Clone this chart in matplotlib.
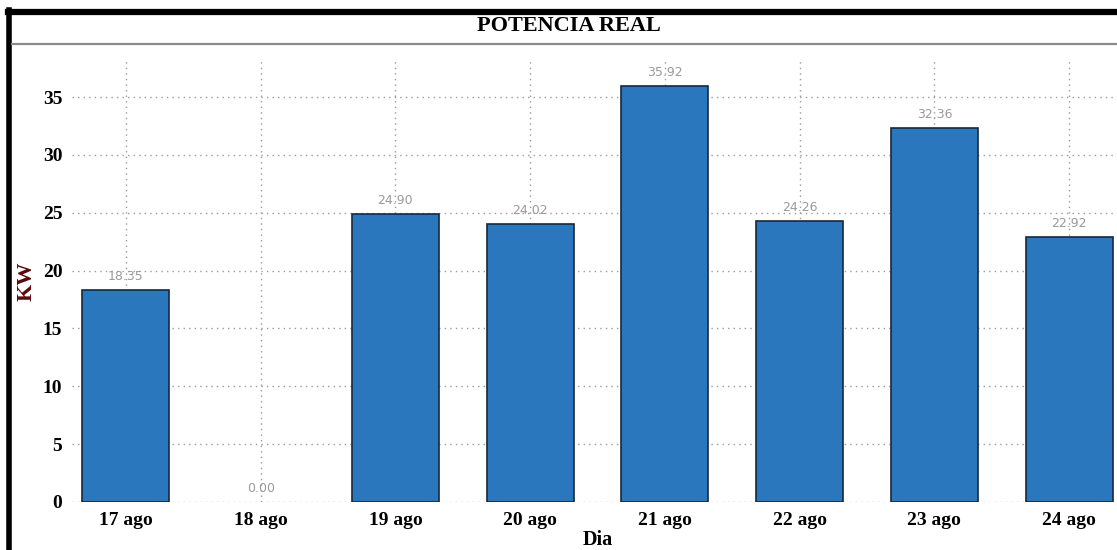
import matplotlib.pyplot as plt
from matplotlib.lines import Line2D

# datos de potencia real por dia
dias = ['17 ago', '18 ago', '19 ago', '20 ago', '21 ago', '22 ago', '23 ago', '24 ago']
potencia_kw = [18.35, 0.00, 24.90, 24.02, 35.92, 24.26, 32.36, 22.92]
yticks = [0, 5, 10, 15, 20, 25, 30, 35]

W, H = 1117, 550
fig = plt.figure(figsize=(W / 100, H / 100), dpi=100)
fig.patch.set_facecolor('white')

serif = ['Liberation Serif', 'DejaVu Serif']

# ejes en pixeles: izquierda 72, abajo 502, arriba 60
left, right, top, bottom = 72, 1123, 60, 502
ax = fig.add_axes([left / W, (H - bottom) / H, (right - left) / W, (bottom - top) / H])

x = list(range(len(dias)))
ax.set_axisbelow(True)
ax.grid(True, linestyle=(0, (1, 3)), color='#9a9a9a', linewidth=1.0)
anchos_borde = [1.2 if v > 0 else 0 for v in potencia_kw]
ax.bar(x, potencia_kw, width=0.645, color='#2a77bd', edgecolor='#17283a',
       linewidth=anchos_borde, zorder=3)

for xi, v in zip(x, potencia_kw):
    ax.annotate(f'{v:.2f}', (xi, v), xytext=(0, 5), textcoords='offset points',
                ha='center', va='bottom', color='#9a9a9a', fontsize=9, zorder=1)

ax.set_xlim(-0.4, 7.4)
ax.set_ylim(0, 38.2)
ax.set_xticks(x)
ax.set_xticklabels(dias, fontfamily=serif, fontweight='bold', fontsize=14)
ax.set_yticks(yticks)
ax.set_yticklabels([str(t) for t in yticks], fontfamily=serif, fontweight='bold', fontsize=14)
ax.tick_params(axis='x', length=0, pad=7)
ax.tick_params(axis='y', length=0, pad=7)
for s in ax.spines.values():
    s.set_visible(False)

ax.set_xlabel('Dia', fontfamily=serif, fontweight='bold', fontsize=14.5, labelpad=1)
ax.set_ylabel('KW', fontfamily=serif, fontweight='bold', fontsize=16, color='#5a0a0a')
ax.yaxis.set_label_coords(-0.034, 0.50)

# marco y cabecera
def px_line(x0, y0, x1, y1, **kw):
    fig.add_artist(Line2D([x0 / W, x1 / W], [1 - y0 / H, 1 - y1 / H], transform=fig.transFigure, **kw))

px_line(7.5, 11.5, W, 11.5, color='black', linewidth=4.5)
px_line(9.5, 9.5, 9.5, H, color='black', linewidth=4.0)
px_line(12, 43.5, W, 43.5, color='#8a8a8a', linewidth=1.6)

fig.text(569 / W, 1 - 26 / H, 'POTENCIA REAL', ha='center', va='center',
         fontfamily=serif, fontweight='bold', fontsize=16)

fig.savefig('out.png', dpi=100)
